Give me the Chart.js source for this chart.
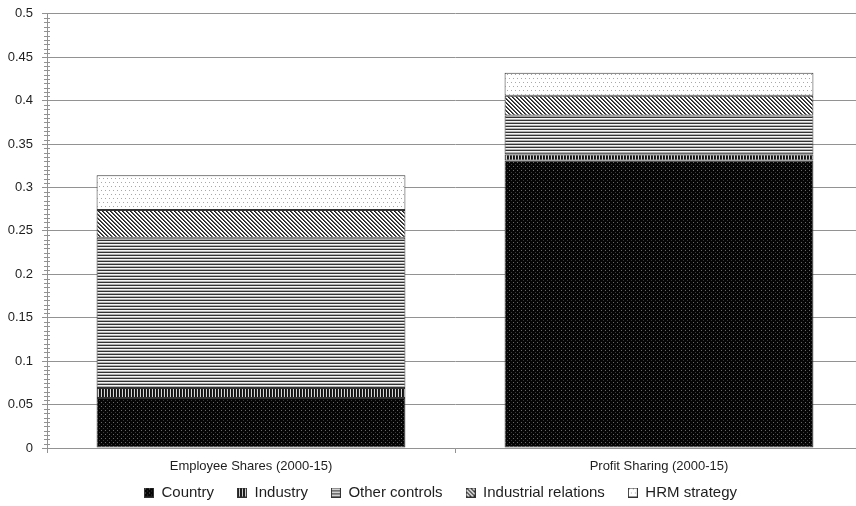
<!DOCTYPE html>
<html>
<head>
<meta charset="utf-8">
<script src="https://cdn.jsdelivr.net/npm/chart.js@4"></script>
<style>
  html, body { margin: 0; padding: 0; overflow: hidden; background: #fff; }
  #wrap { width: 856px; height: 506px; overflow: hidden; }
  #myChart { display: block; margin-top: -3px; }
</style>
</head>
<body>
<div id="wrap"><canvas id="myChart" width="880" height="525"></canvas></div>
<script>
// chart values
const categories = ['Employee Shares (2000-15)', 'Profit Sharing (2000-15)']
const seriesNames = ['Country', 'Industry', 'Other controls', 'Industrial relations', 'HRM strategy']
const country = [0.0576, 0.331]
const industry = [0.0114, 0.007]
const otherControls = [0.173, 0.045]
const industrialRelations = [0.032, 0.0225]
const hrmStrategy = [0.040, 0.0265]
const yTicks = [0, 0.05, 0.1, 0.15, 0.2, 0.25, 0.3, 0.35, 0.4, 0.45, 0.5]

const FONT = "'Liberation Sans', Arial, sans-serif"
const TEXT = '#1e1e1e'
const GRID = '#929292'
const EDGE = '#333'

// small tile -> pattern
function makeTile(w, h, paint) {
  var c = document.createElement('canvas')
  c.width = w
  c.height = h
  var g = c.getContext('2d')
  paint(g)
  return c
}
function px(g, x, y, col) {
  g.fillStyle = col
  g.fillRect(x, y, 1, 1)
}

var tiles = [
  // country: black with grey dots
  makeTile(4, 4, function (g) {
    g.fillStyle = '#050505'; g.fillRect(0, 0, 4, 4)
    px(g, 1, 1, '#6a6a6a'); px(g, 3, 3, '#3a3a3a')
  }),
  // industry: vertical stripes
  makeTile(3, 1, function (g) {
    px(g, 0, 0, '#111'); px(g, 1, 0, '#222'); px(g, 2, 0, '#d8d8d8')
  }),
  // other controls: horizontal lines
  makeTile(1, 3, function (g) {
    px(g, 0, 0, '#333'); px(g, 0, 1, '#f4f4f4'); px(g, 0, 2, '#b0b0b0')
  }),
  // industrial relations: diagonal lines
  makeTile(4, 4, function (g) {
    g.fillStyle = '#fff'; g.fillRect(0, 0, 4, 4)
    for (var y = 0; y < 4; y++) {
      px(g, y % 4, y, '#222'); px(g, (y + 1) % 4, y, '#555')
    }
  }),
  // hrm strategy: white with light dots
  makeTile(8, 8, function (g) {
    g.fillStyle = '#fff'; g.fillRect(0, 0, 8, 8)
    px(g, 1, 1, '#a8a8a8'); px(g, 5, 1, '#a8a8a8')
    px(g, 3, 5, '#a8a8a8'); px(g, 7, 5, '#a8a8a8')
  })
]

var ctx = document.getElementById('myChart').getContext('2d')
var patterns = tiles.map(function (t) { return ctx.createPattern(t, 'repeat') })

// legend markers
function legendIcon(i) {
  return makeTile(10, 10, function (g) {
    g.fillStyle = g.createPattern(tiles[i], 'repeat')
    g.fillRect(0, 0, 10, 10)
    g.strokeStyle = EDGE
    g.lineWidth = 1
    g.strokeRect(0.5, 0.5, 9, 9)
  })
}

var values = [country, industry, otherControls, industrialRelations, hrmStrategy]
var datasets = values.map(function (v, i) {
  return {
    label: seriesNames[i],
    data: v,
    backgroundColor: patterns[i],
    borderColor: EDGE,
    borderWidth: 1,
    borderSkipped: false,
    pointStyle: legendIcon(i),
    barPercentage: 0.757,
    categoryPercentage: 1
  }
})

// small ticks every 0.005 on the value axis
var minorTicks = {
  id: 'minorTicks',
  afterDraw: function (chart) {
    var y = chart.scales.y
    var c = chart.ctx
    var x0 = y.right
    c.save()
    c.strokeStyle = GRID
    c.lineWidth = 1
    c.beginPath()
    for (var i = 0; i <= 100; i++) {
      if (i % 10 === 0) continue
      var py = Math.round(y.getPixelForValue(i / 200)) + 0.5
      c.moveTo(x0 - 3, py)
      c.lineTo(x0 + 3, py)
    }
    c.stroke()
    c.restore()
  }
}

// pull the legend up under the category labels and centre it like the original
var legendShift = {
  id: 'legendShift',
  afterLayout: function (chart) {
    var l = chart.legend
    var h = l.bottom - l.top
    l.top = 465
    l.bottom = 465 + h
    l.left += 9
    l.right += 9
  }
}

var chart = new Chart(ctx, {
  type: 'bar',
  data: { labels: categories, datasets: datasets },
  plugins: [minorTicks, legendShift],
  options: {
    responsive: false,
    animation: false,
    layout: { padding: { top: 0, right: 17, left: 0, bottom: 0 } },
    plugins: {
      tooltip: { enabled: false },
      legend: {
        position: 'bottom',
        labels: {
          usePointStyle: true,
          color: TEXT,
          font: { family: FONT, size: 15 },
          padding: 23,
          boxWidth: 10,
          boxHeight: 10
        }
      }
    },
    scales: {
      x: {
        stacked: true,
        afterFit: function (s) { s.height = 26 },
        grid: { drawOnChartArea: false, color: GRID, tickLength: 5, offset: true },
        border: { color: GRID },
        ticks: { color: TEXT, font: { family: FONT, size: 13 }, padding: 6 }
      },
      y: {
        stacked: true,
        min: 0,
        max: 0.5,
        afterFit: function (s) { s.width = 47 },
        afterBuildTicks: function (s) { s.ticks = yTicks.map(function (v) { return { value: v } }) },
        grid: { color: GRID, tickLength: 5 },
        border: { color: GRID },
        ticks: {
          color: TEXT,
          font: { family: FONT, size: 13 },
          padding: 9,
          callback: function (v) { return String(+v.toFixed(2)) }
        }
      }
    }
  }
})
</script>
</body>
</html>
